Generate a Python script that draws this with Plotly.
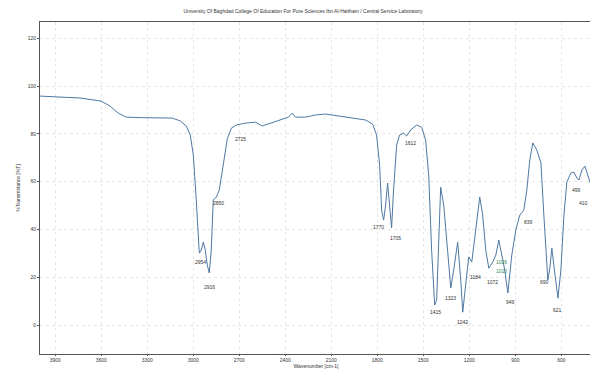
import plotly.graph_objects as go

# Spectrum trace (wavenumber cm-1, %T)
wavenumber = [4000, 3869, 3739, 3601, 3543, 3490, 3438, 3347, 3216, 3138, 3085, 3046, 3020, 3000,
              2981, 2961, 2948, 2935, 2922, 2909, 2896, 2883, 2870, 2850, 2831, 2804, 2778, 2752,
              2720, 2661, 2595, 2550, 2497, 2432, 2380, 2354, 2334, 2269, 2203, 2138, 2040, 1942,
              1877, 1831, 1805, 1785, 1772, 1759, 1746, 1733, 1720, 1707, 1694, 1674, 1655, 1628,
              1609, 1583, 1544, 1511, 1485, 1465, 1446, 1426, 1413, 1400, 1387, 1367, 1341, 1321,
              1302, 1276, 1256, 1243, 1224, 1204, 1184, 1165, 1132, 1113, 1093, 1073, 1047, 1027,
              1008, 988, 969, 949, 923, 897, 871, 845, 825, 806, 786, 760, 733, 714, 688, 675, 662,
              649, 622, 603, 583, 564, 538, 518, 499, 485, 466, 446, 427, 407, 400]
transmittance = [95.8, 95.4, 95.0, 93.7, 91.6, 88.7, 87.0, 86.8, 86.8, 86.6, 85.4, 83.3, 79.5, 71.1,
                 52.3, 30.1, 31.4, 34.7, 31.4, 25.1, 21.8, 31.4, 52.3, 53.6, 56.5, 67.0, 78.0, 82.4,
                 83.7, 84.5, 84.9, 83.3, 84.5, 85.8, 87.0, 88.7, 87.0, 87.0, 87.9, 88.3, 87.4, 86.6,
                 85.8, 84.1, 79.5, 66.9, 48.1, 43.9, 50.2, 59.4, 50.2, 40.6, 56.5, 75.3, 79.5, 80.3,
                 79.1, 81.6, 83.7, 82.8, 77.4, 62.8, 31.4, 8.4, 10.5, 35.6, 57.7, 50.2, 29.3, 15.5,
                 23.0, 34.7, 18.8, 5.4, 16.7, 28.5, 26.4, 35.6, 53.6, 46.0, 31.4, 23.8, 26.4, 29.3,
                 35.6, 29.3, 23.0, 13.4, 29.3, 39.7, 46.0, 48.1, 56.5, 69.0, 76.2, 73.2, 67.8, 46.0,
                 18.8, 23.8, 32.2, 25.1, 11.3, 23.0, 46.0, 59.8, 63.6, 64.0, 61.5, 60.7, 64.9, 66.5,
                 62.3, 58.6, 58.0]

# Peak labels: text, position (wavenumber, %T), colour group
peak_text = ["2954", "2916", "2850", "2725", "1770", "1705", "1612", "1415", "1323", "1242",
             "1184", "1072", "1026", "1010", "949", "839", "690", "621", "499", "410"]
peak_wn = [2955, 2896, 2838, 2693, 1792, 1681, 1583, 1419, 1321, 1243,
           1158, 1047, 990, 990, 929, 812, 708, 622, 498, 412]
peak_t = [26.4, 15.9, 51.0, 78.0, 41.0, 36.4, 76.0, 5.4, 11.3, 1.3,
          20.0, 18.0, 26.4, 22.6, 9.6, 43.0, 18.0, 6.3, 56.5, 51.0]
peak_green = [False] * 12 + [True, True] + [False] * 6

x_ticks = [3900, 3600, 3300, 3000, 2700, 2400, 2100, 1800, 1500, 1200, 900, 600]
y_ticks = [0, 20, 40, 60, 80, 100, 120]

fig = go.Figure()
fig.add_trace(go.Scatter(x=wavenumber, y=transmittance, mode="lines",
                         line=dict(color="#4f78a3", width=1), hoverinfo="x+y"))

for i, (t, wx, ty, g) in enumerate(zip(peak_text, peak_wn, peak_t, peak_green)):
    fig.add_annotation(x=wx, y=ty, text=t, showarrow=False,
                       xanchor="right" if i == len(peak_text) - 1 else "center",
                       font=dict(size=5, color="#2e8b57" if g else "#333333"))

# the page body adds an 8 px offset, so the figure is 8 px smaller with margins shifted
fig.update_layout(
    width=590, height=368,
    margin=dict(l=32, r=6, t=14, b=22),
    paper_bgcolor="white", plot_bgcolor="white",
    showlegend=False,
    font=dict(family="Liberation Sans", size=6, color="#333333"),
    title=dict(text="University Of Baghdad College Of Education For Pure Sciences Ibn Al-Haitham / Central Service Laboratory",
               x=0.5, xanchor="center", y=0.995, yanchor="top",
               font=dict(size=5, color="#333333")),
)
fig.update_xaxes(range=[4000, 400], tickvals=x_ticks, ticktext=[str(v) for v in x_ticks],
                 showgrid=True, gridcolor="#e6e6e6", griddash="dot", gridwidth=1,
                 showline=True, linecolor="#555555", linewidth=1, mirror=True,
                 ticks="outside", ticklen=1, tickcolor="#555555",
                 title=dict(text="Wavenumber [cm-1]", standoff=0, font=dict(size=5)),
                 zeroline=False, tickfont=dict(size=5))
fig.update_yaxes(range=[-12.1, 126.8], tickvals=y_ticks, ticktext=[str(v) for v in y_ticks],
                 showgrid=True, gridcolor="#e6e6e6", griddash="dot", gridwidth=1,
                 showline=True, linecolor="#555555", linewidth=1, mirror=True,
                 ticks="outside", ticklen=2, tickcolor="#555555",
                 title=dict(text="%Transmittance [%T]", standoff=6, font=dict(size=5)),
                 zeroline=False, tickfont=dict(size=5))

fig.write_html("out.html")
